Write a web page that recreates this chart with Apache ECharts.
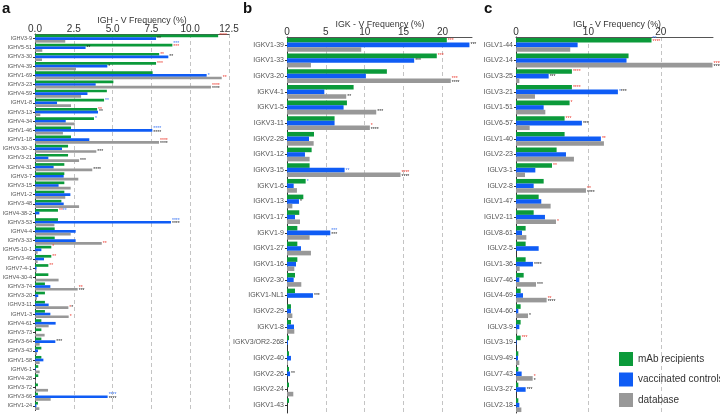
<!DOCTYPE html>
<html>
<head>
<meta charset="UTF-8">
<title>V gene frequency</title>
<script src="https://cdn.jsdelivr.net/npm/echarts@6/dist/echarts.min.js"></script>
<style>
	html, body { margin:0; padding:0; background:#fff; }
	#chart { width:720px; height:415px; }
</style>
</head>
<body>
<div id="chart"></div>
<script type="text/javascript">
	// panel a - IGH
	var ighGenes = ['IGHV3-9','IGHV5-51','IGHV3-30','IGHV4-39','IGHV1-69','IGHV3-23','IGHV4-59','IGHV1-8','IGHV3-13','IGHV4-34','IGHV1-46','IGHV1-18','IGHV3-30-3','IGHV3-21','IGHV4-31','IGHV3-7','IGHV3-15','IGHV1-2','IGHV3-48','IGHV4-38-2','IGHV3-53','IGHV4-4','IGHV3-33','IGHV5-10-1','IGHV3-49','IGHV7-4-1','IGHV4-30-4','IGHV3-74','IGHV3-20','IGHV3-11','IGHV1-3','IGHV4-61','IGHV3-73','IGHV3-64','IGHV3-43','IGHV1-58','IGHV6-1','IGHV4-28','IGHV3-72','IGHV3-66','IGHV1-24'];
	var ighMab = [11.8,8.85,8.0,7.8,7.58,5.05,4.63,4.45,4.0,3.8,2.32,2.32,2.13,2.13,1.89,1.89,1.89,1.89,1.7,1.48,1.48,1.27,1.27,1.05,1.05,0.86,0.86,0.64,0.64,0.64,0.64,0.41,0.41,0.41,0.41,0.41,0.21,0.21,0.19,0.19,0.19];
	var ighVac = [7.8,3.26,8.59,4.66,11.06,3.91,3.38,1.42,4.06,1.98,7.56,3.5,1.74,0.86,1.2,1.85,1.52,2.28,1.85,0.28,8.76,2.62,2.62,0.41,0.58,0.1,0,0.99,0.21,0.88,0.99,1.33,0,1.31,0.19,0.54,0.05,0,0,4.68,0.09];
	var ighDb = [1.95,0.47,0.45,2.64,12.03,11.34,2.97,2.32,0.34,2.56,1.8,7.99,3.95,2.84,3.69,2.79,2.3,1.95,2.84,0,1.25,2.3,4.3,0.17,0.17,0.1,1.52,2.75,0.13,2.15,2.17,0.88,0.62,0.3,0.13,0.3,0.3,0.05,0.84,1.01,0.28];
	var ighStarsMab = [[0,'{r|****}'],[1,'{b|***}\n{r|***}'],[2,'{r|**}'],[3,'{r|***}'],[7,'{b|**}'],[8,'{r|**}'],[9,'{b|*}'],[19,'{r|**}{b|**}'],[23,'{r|*}'],[24,'{r|**}'],[25,'{r|**}']];
	var ighStarsVac = [[0,'{k|**}'],[1,'{k|**}'],[2,'{k|**}'],[3,'{k|*}'],[4,'{b|*}'],[8,'{k|**}'],[10,'{b|****}\n{k|****}'],[20,'{b|****}\n{k|****}'],[33,'{k|***}'],[39,'{b|****}\n{k|****}']];
	var ighStarsDb = [[4,'{r|**}'],[5,'{r|****}\n{k|****}'],[11,'{r|****}\n{k|****}'],[12,'{k|***}'],[13,'{k|***}'],[14,'{k|****}'],[22,'{r|**}'],[27,'{r|**}\n{k|***}'],[29,'{r|*}{k|*}'],[30,'{r|*}']];

	// panel b - IGK
	var igkGenes = ['IGKV1-39','IGKV1-33','IGKV3-20','IGKV4-1','IGKV1-5','IGKV3-11','IGKV2-28','IGKV1-12','IGKV3-15','IGKV1-6','IGKV1-13','IGKV1-17','IGKV1-9','IGKV1-27','IGKV1-16','IGKV2-30','IGKV1-NL1','IGKV2-29','IGKV1-8','IGKV3/OR2-268','IGKV2-40','IGKV2-26','IGKV2-24','IGKV1-43'];
	var igkMab = [20.56,19.27,12.85,8.57,7.71,6.12,3.47,3.17,2.91,2.4,2.1,1.58,1.33,1.33,1.33,1.03,1.03,0.51,0.51,0.26,0.26,0.26,0.26,0.26];
	var igkVac = [23.47,16.36,10.15,4.8,7.28,6.12,2.83,2.31,7.41,0.86,1.54,1.03,5.57,1.8,1.16,0.86,3.34,0.51,0.9,0.13,0.51,0.39,0,0];
	var igkDb = [9.55,3.08,21.07,7.62,11.48,10.66,3.43,2.91,14.6,1.28,0.69,1.67,2.91,3.08,0.94,1.84,0,0.69,0.94,0,0.13,0,0.81,0];
	var igkStarsMab = [[0,'{r|***}'],[1,'{r|***}'],[9,'{b|*}']];
	var igkStarsVac = [[0,'{k|***}'],[1,'{k|***}'],[8,'{b|**}'],[10,'{k|*}'],[12,'{b|***}\n{k|***}'],[16,'{k|***}'],[21,'{k|**}']];
	var igkStarsDb = [[2,'{r|***}\n{k|****}'],[3,'{k|**}'],[4,'{k|***}'],[5,'{r|*}\n{k|****}'],[8,'{r|****}\n{k|****}']];

	// panel c - IGL
	var iglGenes = ['IGLV1-44','IGLV2-14','IGLV3-25','IGLV3-21','IGLV1-51','IGLV6-57','IGLV1-40','IGLV2-23','IGLV3-1','IGLV2-8','IGLV1-47','IGLV2-11','IGLV8-61','IGLV2-5','IGLV1-36','IGLV7-46','IGLV4-69','IGLV4-60','IGLV3-9','IGLV3-19','IGLV9-49','IGLV7-43','IGLV3-27','IGLV2-18'];
	var iglMab = [18.71,15.54,7.72,7.72,7.4,6.71,6.71,5.61,4.97,3.82,3.13,2.44,1.33,1.33,1.33,1.06,0.64,0.64,0.64,0.64,0.32,0.32,0.32,0.32];
	var iglVac = [8.51,15.26,4.51,14.07,3.82,9.1,11.72,6.9,2.67,2.44,3.49,4.0,0.83,3.13,2.34,0.46,0.97,0.32,0.46,0.09,0.28,0.78,1.33,0.46];
	var iglDb = [7.49,27.13,0.46,2.62,4.05,1.89,12.14,8.0,1.24,9.66,4.78,5.52,1.43,0,0.51,2.76,4.23,1.66,0.18,0,0.46,2.3,0,0.74];
	var iglStarsMab = [[0,'{b|**}\n{r|****}'],[2,'{r|****}'],[3,'{r|****}'],[4,'{r|*}'],[5,'{r|***}'],[8,'{r|**}'],[19,'{r|***}']];
	var iglStarsVac = [[2,'{k|***}'],[3,'{b|*}{k|***}'],[5,'{k|***}'],[6,'{r|**}'],[14,'{k|****}'],[22,'{k|***}']];
	var iglStarsDb = [[1,'{r|****}\n{k|****}'],[9,'{r|**}\n{k|****}'],[11,'{r|*}'],[15,'{k|***}'],[16,'{r|**}\n{k|****}'],[17,'{k|*}'],[21,'{r|*}\n{k|*}']];

	var seriesNames = ['mAb recipients', 'vaccinated controls', 'database'];
	var colors = ['#0b9a3a', '#0f5cf5', '#989898'];
	var fontFamily = '"Liberation Sans Narrow", "Arial Narrow", "Liberation Sans", Arial, sans-serif';

	var chart = echarts.init(document.getElementById('chart'));

	function starLabels(values, stars)
	{
		var data = [];
		var map = {};
		for (var i = 0; i < stars.length; i++) map[stars[i][0]] = stars[i][1];
		for (var j = 0; j < values.length; j++)
		{
			data.push({
				value: values[j],
				label: { show: !!map[j], formatter: map[j] || '' }
			});
		}
		return data;
	}

	function barSeries(idx, name, values, stars, color)
	{
		return {
			type: 'bar',
			name: name,
			xAxisIndex: idx,
			yAxisIndex: idx,
			data: starLabels(values, stars),
			itemStyle: { color: color },
			barGap: '0%',
			barCategoryGap: '12%',
			label: {
				position: 'right',
				distance: 1,
				fontSize: 5,
				lineHeight: 3.5,
				rich: {
					r: { color: '#ec3a2e', fontSize: 5, lineHeight: 3.5 },
					k: { color: '#222', fontSize: 5, lineHeight: 3.5 },
					b: { color: '#3a74f2', fontSize: 5, lineHeight: 3.5 }
				}
			},
			silent: true,
			animation: false
		};
	}

	function xAxisOf(idx, max, interval, labelFmt)
	{
		return {
			type: 'value',
			gridIndex: idx,
			position: 'top',
			min: 0,
			max: max,
			interval: interval,
			axisLine: { show: true, lineStyle: { color: '#555', width: 1 } },
			axisTick: { show: false },
			axisLabel: { fontSize: 10, color: '#333', margin: 0, fontFamily: fontFamily, formatter: labelFmt, showMaxLabel: max % interval === 0, alignMinLabel: 'center', alignMaxLabel: 'center' },
			splitLine: { show: true, showMinLine: false, showMaxLine: max % interval === 0, lineStyle: { color: '#c4c4c4', type: [4, 3], width: 1 } }
		};
	}

	function yAxisOf(idx, names, fontSize, margin)
	{
		return {
			type: 'category',
			gridIndex: idx,
			inverse: true,
			data: names,
			axisLine: { show: true, lineStyle: { color: '#333', width: 1 } },
			axisTick: { show: true, alignWithLabel: true, length: 2, lineStyle: { color: '#333' } },
			axisLabel: { interval: 0, fontSize: fontSize, color: '#555', margin: margin, fontFamily: fontFamily }
		};
	}

	function titleOf(text, left, top, size, bold, align)
	{
		return {
			text: text, left: left, top: top, padding: 0, textAlign: align,
			textStyle: { fontSize: size, fontWeight: bold ? 'bold' : 'normal', color: bold ? '#111' : '#333', fontFamily: bold ? '"Liberation Sans", Arial, sans-serif' : fontFamily }
		};
	}

	var option =
	{
		textStyle: { fontFamily: fontFamily },
		title: [
			titleOf('a', 2, 1, 15, true, 'left'),
			titleOf('b', 243, 1, 15, true, 'left'),
			titleOf('c', 484, 1, 15, true, 'left'),
			titleOf('IGH - V Frequency (%)', 142, 16, 8.8, false, 'center'),
			titleOf('IGK - V Frequency (%)', 380, 20, 8.8, false, 'center'),
			titleOf('IGL - V Frequency (%)', 617, 20, 8.8, false, 'center')
		],
		legend: {
			orient: 'vertical',
			left: 619,
			top: 352,
			padding: 0,
			itemWidth: 14,
			itemHeight: 14,
			itemGap: 6.5,
			icon: 'rect',
			data: seriesNames,
			textStyle: { fontSize: 10, color: '#333', fontFamily: fontFamily }
		},
		grid: [
			{ left: 35, right: 491, top: 34, bottom: 4.5, outerBoundsMode: 'none', containLabel: false },
			{ left: 287, right: 248, top: 37, bottom: 2, outerBoundsMode: 'none', containLabel: false },
			{ left: 516, right: 7, top: 37, bottom: 2, outerBoundsMode: 'none', containLabel: false }
		],
		xAxis: [
			xAxisOf(0, 12.5, 2.5, function(v) { return v.toFixed(1); }),
			xAxisOf(1, 23.8, 5, function(v) { return v; }),
			xAxisOf(2, 27.2, 10, function(v) { return v; })
		],
		yAxis: [
			yAxisOf(0, ighGenes, 5.5, 3),
			yAxisOf(1, igkGenes, 7, 3),
			yAxisOf(2, iglGenes, 7, 3)
		],
		series: [
			barSeries(0, seriesNames[0], ighMab, ighStarsMab, colors[0]),
			barSeries(0, seriesNames[1], ighVac, ighStarsVac, colors[1]),
			barSeries(0, seriesNames[2], ighDb, ighStarsDb, colors[2]),
			barSeries(1, seriesNames[0], igkMab, igkStarsMab, colors[0]),
			barSeries(1, seriesNames[1], igkVac, igkStarsVac, colors[1]),
			barSeries(1, seriesNames[2], igkDb, igkStarsDb, colors[2]),
			barSeries(2, seriesNames[0], iglMab, iglStarsMab, colors[0]),
			barSeries(2, seriesNames[1], iglVac, iglStarsVac, colors[1]),
			barSeries(2, seriesNames[2], iglDb, iglStarsDb, colors[2])
		]
	};
	chart.setOption(option);
</script>
</body>
</html>
